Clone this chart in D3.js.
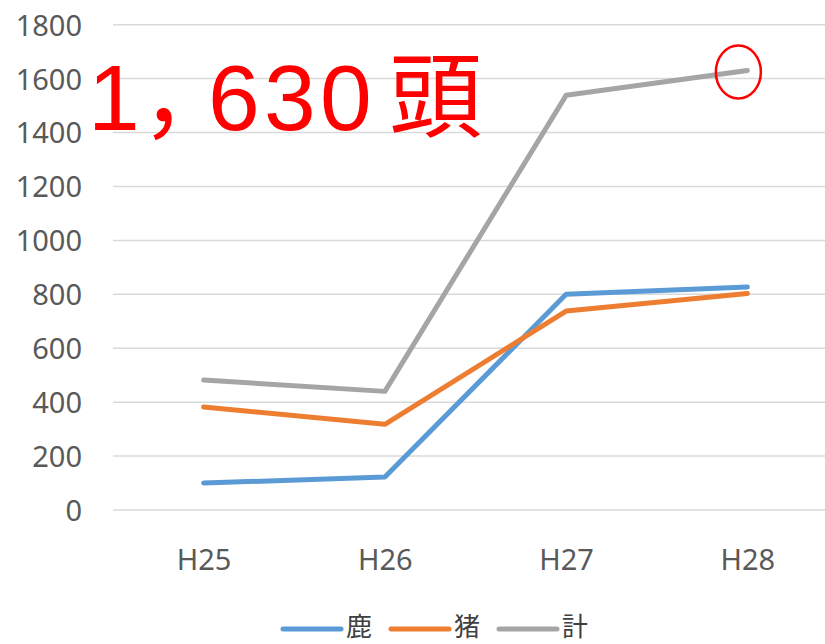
<!DOCTYPE html>
<html>
<head>
<meta charset="utf-8">
<script src="https://cdn.jsdelivr.net/npm/d3@7"></script>
<style>
  body { margin: 0; background: #fff; }
  svg { display: block; }
</style>
</head>
<body>
<div id="chart"></div>
<script>
// data
var years = ["H25", "H26", "H27", "H28"];
var deer = [100, 122, 800, 827];     // 鹿
var boar = [382, 318, 738, 803];     // 猪
var total = [482, 440, 1538, 1630];  // 計
var yTicks = [0, 200, 400, 600, 800, 1000, 1200, 1400, 1600, 1800];

var series = [
  { name: "鹿", values: deer, color: "#5B9BD5" },
  { name: "猪", values: boar, color: "#ED7D31" },
  { name: "計", values: total, color: "#A5A5A5" }
];

var W = 825, H = 644;
var svg = d3.select("#chart").append("svg")
  .attr("width", W).attr("height", H);

var x = d3.scalePoint().domain(years).range([113, 838]).padding(0.5);
var y = d3.scaleLinear().domain([0, 1800]).range([510, 24.7]);

// gridlines
svg.append("g").selectAll("line")
  .data(yTicks).enter().append("line")
  .attr("x1", 113).attr("x2", 838)
  .attr("y1", function(d){ return y(d); })
  .attr("y2", function(d){ return y(d); })
  .style("stroke", "#D9D9D9")
  .style("stroke-width", 1.5);

// y axis labels
var yAxis = d3.axisLeft(y).tickValues(yTicks).tickFormat(d3.format("d")).tickSize(0).tickPadding(0);
var ya = svg.append("g").attr("transform", "translate(82,0)").call(yAxis);
ya.select(".domain").remove();
ya.selectAll("text")
  .attr("dy", "0.36em")
  .style("fill", "#595959")
  .style("font-family", "Noto Sans")
  .style("font-size", "29px");

// x axis labels
var xAxis = d3.axisBottom(x).tickSize(0).tickPadding(0);
var xa = svg.append("g").attr("transform", "translate(0,570)").call(xAxis);
xa.select(".domain").remove();
xa.selectAll("text")
  .attr("dy", 0).attr("y", 0)
  .style("fill", "#595959")
  .style("font-family", "Noto Sans")
  .style("font-size", "29px");

// lines
var line = d3.line()
  .x(function(d, i){ return x(years[i]); })
  .y(function(d){ return y(d); });

svg.append("g").selectAll("path")
  .data(series).enter().append("path")
  .attr("d", function(d){ return line(d.values); })
  .style("fill", "none")
  .style("stroke", function(d){ return d.color; })
  .style("stroke-width", 5)
  .style("stroke-linecap", "round")
  .style("stroke-linejoin", "round");

// red annotation, one glyph position per character
svg.append("text")
  .text("1，630頭")
  .attr("x", "88 141 208 264 320 389")
  .attr("y", 130)
  .style("fill", "#FF0000")
  .style("font-family", "Liberation Sans, Noto Sans CJK JP")
  .style("font-size", "93px");

svg.append("ellipse")
  .attr("cx", x("H28") - 9).attr("cy", y(1630) + 1.5)
  .attr("rx", 22.5).attr("ry", 26.5)
  .style("fill", "none")
  .style("stroke", "#FF0000")
  .style("stroke-width", 2.5);

// legend
var legX = [283, 391, 499];
var leg = svg.append("g").selectAll("g")
  .data(series).enter().append("g")
  .attr("transform", function(d, i){ return "translate(" + legX[i] + ",629)"; });
leg.append("line")
  .attr("x1", 0).attr("x2", 58).attr("y1", 0).attr("y2", 0)
  .style("stroke", function(d){ return d.color; })
  .style("stroke-width", 5)
  .style("stroke-linecap", "round");
leg.append("text")
  .text(function(d){ return d.name; })
  .attr("x", 63).attr("y", 7)
  .style("fill", "#404040")
  .style("font-family", "Noto Sans CJK JP")
  .style("font-size", "26px");
</script>
</body>
</html>
